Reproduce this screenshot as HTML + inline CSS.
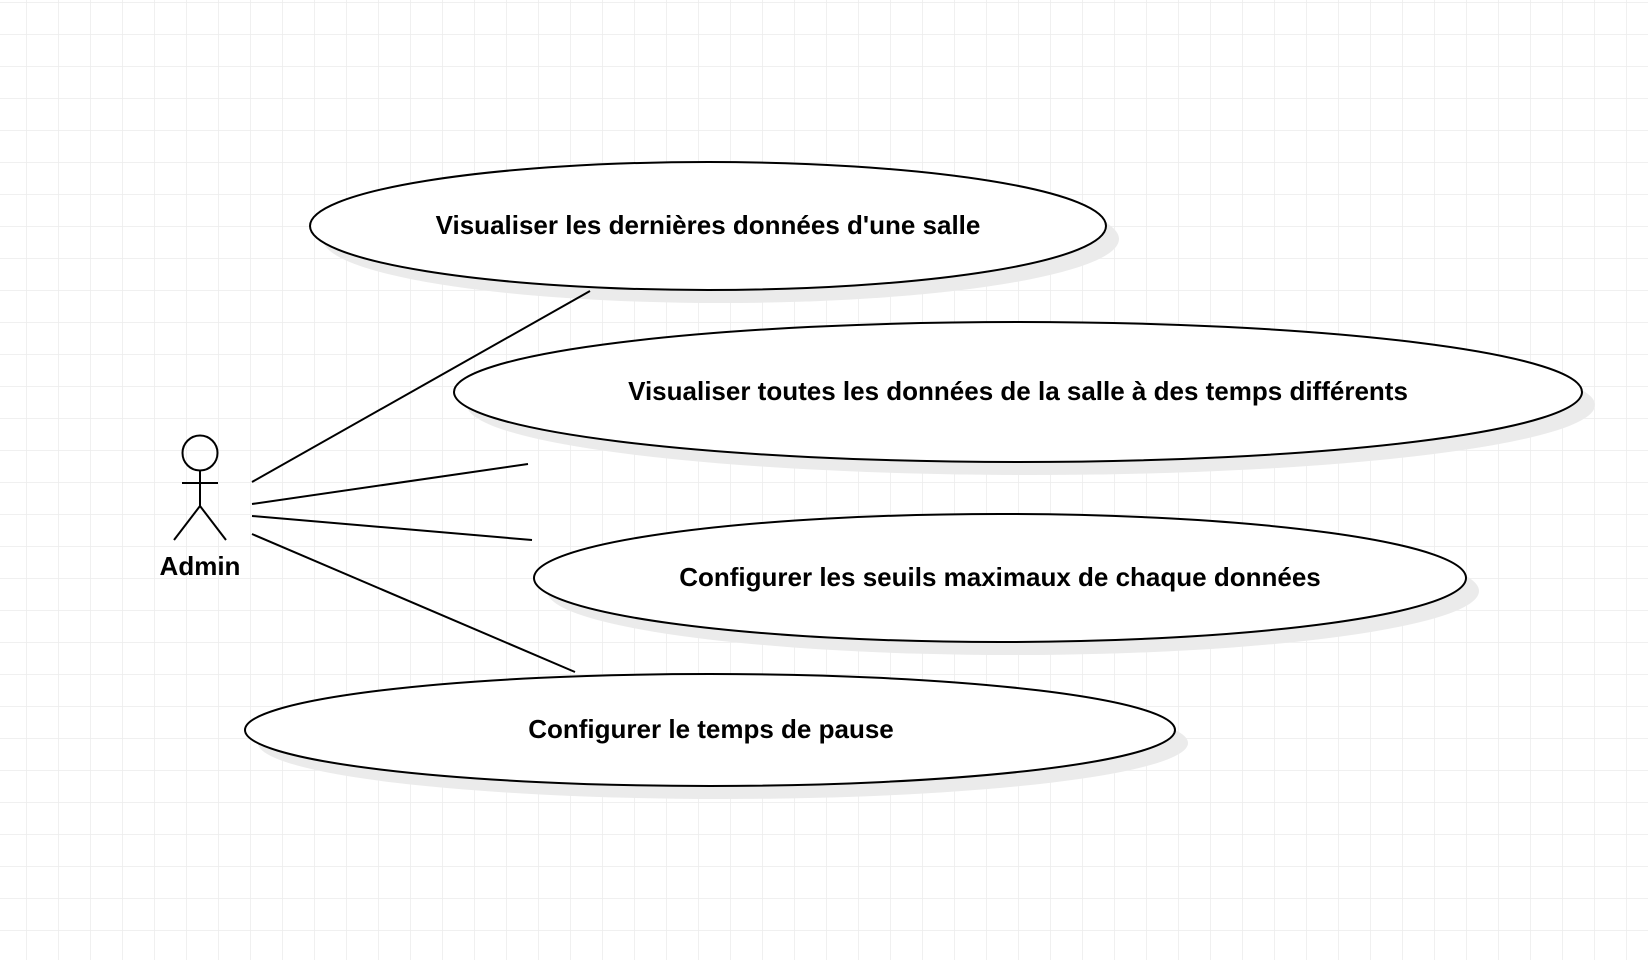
<!DOCTYPE html>
<html><head><meta charset="utf-8"><style>
html,body{margin:0;padding:0;background:#fff;}
svg{display:block;}
text{font-family:"Liberation Sans",Arial,sans-serif;font-weight:bold;fill:#000;}
</style></head><body>
<svg width="1648" height="960" viewBox="0 0 1648 960" xmlns="http://www.w3.org/2000/svg">
<defs>
<pattern id="g" x="26" y="2" width="32" height="32" patternUnits="userSpaceOnUse">
<path d="M0 0H32M0 0V32" stroke="#ececec" stroke-width="1.5" fill="none"/>
</pattern>
</defs>
<rect width="1648" height="960" fill="url(#g)"/>
<g fill="#ebebeb">
<ellipse cx="721" cy="239" rx="398" ry="64"/>
<ellipse cx="1031" cy="405" rx="564" ry="70"/>
<ellipse cx="1013" cy="591" rx="466" ry="64"/>
<ellipse cx="723" cy="743" rx="465" ry="56"/>
</g>
<g fill="#fff" stroke="#000" stroke-width="2">
<ellipse cx="708" cy="226" rx="398" ry="64"/>
<ellipse cx="1018" cy="392" rx="564" ry="70"/>
<ellipse cx="1000" cy="578" rx="466" ry="64"/>
<ellipse cx="710" cy="730" rx="465" ry="56"/>
</g>
<g stroke="#000" stroke-width="2" fill="none">
<line x1="252" y1="482" x2="590" y2="291"/>
<line x1="252" y1="504" x2="528" y2="464"/>
<line x1="252" y1="516" x2="532" y2="540"/>
<line x1="252" y1="534" x2="575" y2="672"/>
<circle cx="200" cy="453" r="17.5"/>
<line x1="200" y1="471" x2="200" y2="506"/>
<line x1="182" y1="483" x2="218" y2="483"/>
<line x1="200" y1="506" x2="174" y2="540"/>
<line x1="200" y1="506" x2="226" y2="540"/>
</g>
<g font-size="26" text-anchor="middle">
<text x="200" y="575">Admin</text>
<text x="708" y="234">Visualiser les dernières données d'une salle</text>
<text x="1018" y="400">Visualiser toutes les données de la salle à des temps différents</text>
<text x="1000" y="586">Configurer les seuils maximaux de chaque données</text>
<text x="711" y="738">Configurer le temps de pause</text>
</g>
</svg>
</body></html>
